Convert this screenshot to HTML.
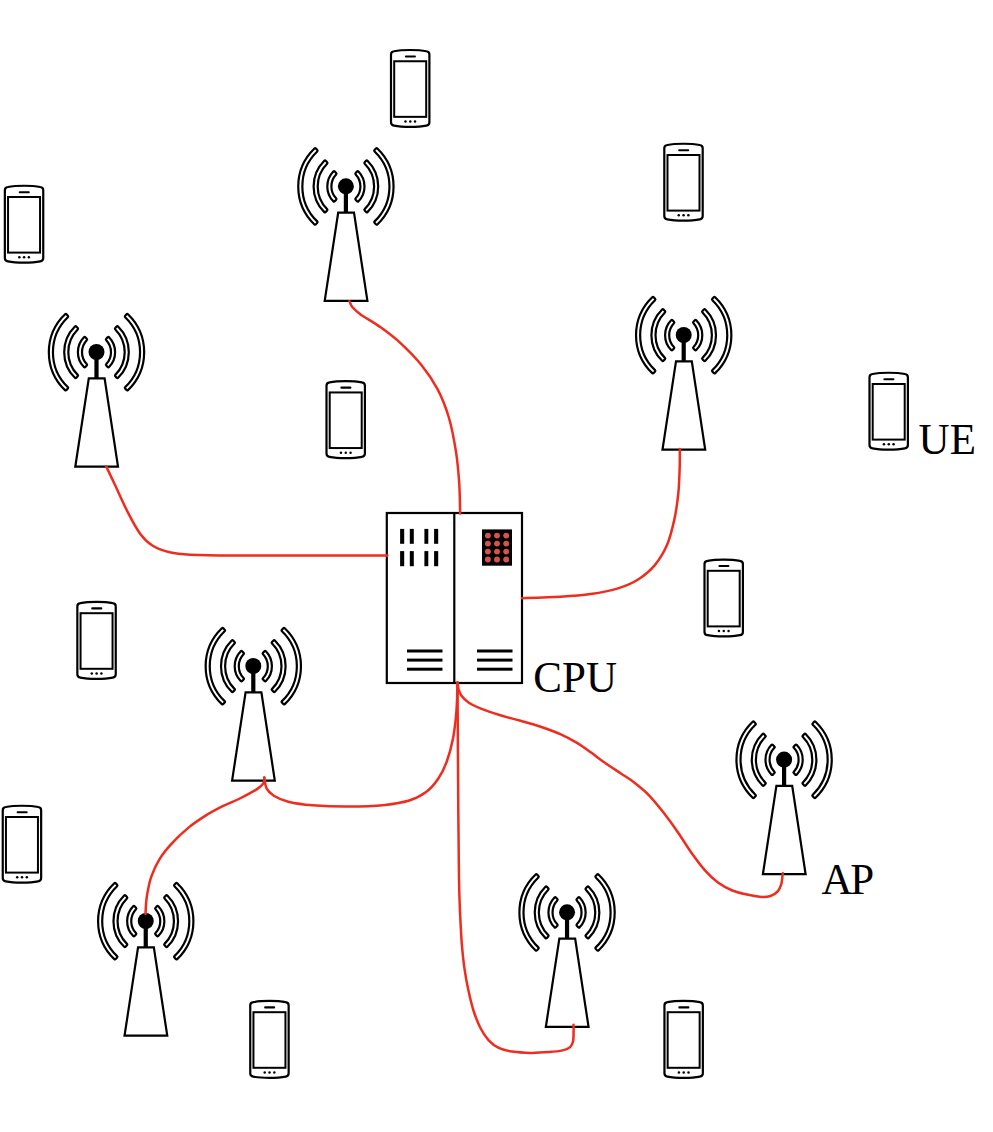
<!DOCTYPE html>
<html><head><meta charset="utf-8"><title>Cell-free network</title>
<style>
html,body{margin:0;padding:0;background:#fff;}
svg{display:block;}
text{font-family:"Liberation Serif",serif;fill:#000;}
</style></head><body>
<svg width="993" height="1132" viewBox="0 0 993 1132">
<rect width="993" height="1132" fill="#fff"/>
<defs>
<g id="ap">
<path d="M-31.45,-37.82 A52.60,52.60 0 0 0 -31.45,38.12 Q-30.72,38.81 -30.04,38.07 L-28.62,36.53 Q-27.94,35.79 -28.67,35.11 A48.50,48.50 0 0 1 -28.67,-34.81 Q-27.94,-35.49 -28.62,-36.23 L-30.04,-37.77 Q-30.72,-38.51 -31.45,-37.82 Z M31.45,-37.82 A52.60,52.60 0 0 1 31.45,38.12 Q30.72,38.81 30.04,38.07 L28.62,36.53 Q27.94,35.79 28.67,35.11 A48.50,48.50 0 0 0 28.67,-34.81 Q27.94,-35.49 28.62,-36.23 L30.04,-37.77 Q30.72,-38.51 31.45,-37.82 Z M-21.60,-25.54 A36.20,36.20 0 0 0 -21.60,25.84 Q-20.88,26.54 -20.20,25.81 L-18.76,24.28 Q-18.07,23.55 -18.79,22.85 A32.10,32.10 0 0 1 -18.79,-22.55 Q-18.07,-23.25 -18.76,-23.98 L-20.20,-25.51 Q-20.88,-26.24 -21.60,-25.54 Z M21.60,-25.54 A36.20,36.20 0 0 1 21.60,25.84 Q20.88,26.54 20.20,25.81 L18.76,24.28 Q18.07,23.55 18.79,22.85 A32.10,32.10 0 0 0 18.79,-22.55 Q18.07,-23.25 18.76,-23.98 L20.20,-25.51 Q20.88,-26.24 21.60,-25.54 Z M-12.56,-14.75 A21.40,21.40 0 0 0 -12.56,15.05 Q-11.85,15.75 -11.16,15.02 L-9.73,13.49 Q-9.04,12.76 -9.75,12.06 A17.30,17.30 0 0 1 -9.75,-11.76 Q-9.04,-12.46 -9.73,-13.19 L-11.16,-14.72 Q-11.85,-15.45 -12.56,-14.75 Z M12.56,-14.75 A21.40,21.40 0 0 1 12.56,15.05 Q11.85,15.75 11.16,15.02 L9.73,13.49 Q9.04,12.76 9.75,12.06 A17.30,17.30 0 0 0 9.75,-11.76 Q9.04,-12.46 9.73,-13.19 L11.16,-14.72 Q11.85,-15.45 12.56,-14.75 Z" fill="none" stroke="#000" stroke-width="2.2" stroke-linejoin="round"/>
<path d="M-7.7,26.3 L8.1,26.3 L21.5,114.6 L-21.2,114.6 Z" fill="#fff" stroke="#000" stroke-width="2.2" stroke-linejoin="miter"/>
<rect x="-2.1" y="0" width="4.2" height="26.3" fill="#000"/>
<circle cx="0" cy="0" r="8" fill="#000"/>
</g>
<g id="ue">
<path d="M-19.2,-33.9 Q-19.2,-36.9 -16.2,-37.199999999999996 C-8,-38.85 8,-38.85 16.2,-37.199999999999996 Q19.2,-36.9 19.2,-33.9 L19.2,33.9 Q19.2,36.9 16.2,37.199999999999996 C8,38.85 -8,38.85 -16.2,37.199999999999996 Q-19.2,36.9 -19.2,33.9 Z" fill="#fff" stroke="#000" stroke-width="2.2" stroke-linejoin="round"/>
<rect x="-16.0" y="-27.2" width="32.0" height="55.6" fill="#fff" stroke="#000" stroke-width="2.0"/>
<line x1="-4.3" y1="-32" x2="4.7" y2="-32" stroke="#000" stroke-width="2.1" stroke-linecap="round"/>
<circle cx="-4.75" cy="33.0" r="1.25" fill="#000"/>
<circle cx="0.05" cy="33.0" r="1.25" fill="#000"/>
<circle cx="4.85" cy="33.0" r="1.25" fill="#000"/>
</g>
</defs>
<g id="cpu">
<rect x="386.8" y="513" width="135.2" height="170" fill="#fff" stroke="#000" stroke-width="2.2"/>
<line x1="454.3" y1="513" x2="454.3" y2="683" stroke="#000" stroke-width="2.2"/>

<rect x="400.1" y="528.9" width="4.10" height="14.90" fill="#000"/>
<rect x="400.1" y="551.1" width="4.10" height="15.10" fill="#000"/>
<rect x="409.8" y="528.9" width="4.00" height="14.90" fill="#000"/>
<rect x="409.8" y="551.1" width="4.00" height="15.10" fill="#000"/>
<rect x="424.4" y="528.9" width="3.90" height="14.90" fill="#000"/>
<rect x="424.4" y="551.1" width="3.90" height="15.10" fill="#000"/>
<rect x="434.1" y="528.9" width="4.10" height="14.90" fill="#000"/>
<rect x="434.1" y="551.1" width="4.10" height="15.10" fill="#000"/>
<rect x="482" y="529.4" width="30" height="36.3" fill="#000"/>
<circle cx="487.9" cy="535.6" r="2.95" fill="#d4544d"/>
<circle cx="487.9" cy="543.6" r="2.95" fill="#d4544d"/>
<circle cx="487.9" cy="551.6" r="2.95" fill="#d4544d"/>
<circle cx="487.9" cy="559.5" r="2.95" fill="#d4544d"/>
<circle cx="497.0" cy="535.6" r="2.95" fill="#d4544d"/>
<circle cx="497.0" cy="543.6" r="2.95" fill="#d4544d"/>
<circle cx="497.0" cy="551.6" r="2.95" fill="#d4544d"/>
<circle cx="497.0" cy="559.5" r="2.95" fill="#d4544d"/>
<circle cx="506.2" cy="535.6" r="2.95" fill="#d4544d"/>
<circle cx="506.2" cy="543.6" r="2.95" fill="#d4544d"/>
<circle cx="506.2" cy="551.6" r="2.95" fill="#d4544d"/>
<circle cx="506.2" cy="559.5" r="2.95" fill="#d4544d"/>
<rect x="407.0" y="649.50" width="35.5" height="3.0" fill="#000"/>
<rect x="477.0" y="649.50" width="35.5" height="3.0" fill="#000"/>
<rect x="407.0" y="658.60" width="35.5" height="3.0" fill="#000"/>
<rect x="477.0" y="658.60" width="35.5" height="3.0" fill="#000"/>
<rect x="407.0" y="667.70" width="35.5" height="3.0" fill="#000"/>
<rect x="477.0" y="667.70" width="35.5" height="3.0" fill="#000"/>
</g>
<use href="#ue" x="410.2" y="88.45"/>
<use href="#ue" x="683.5" y="182.2"/>
<use href="#ue" x="24.05" y="224.2"/>
<use href="#ue" x="345.7" y="419.65"/>
<use href="#ue" x="888.7" y="411.2"/>
<use href="#ue" x="723.7" y="598.0"/>
<use href="#ue" x="96.55" y="640.4"/>
<use href="#ue" x="21.95" y="844.2"/>
<use href="#ue" x="269.45" y="1039.4"/>
<use href="#ue" x="683.65" y="1039.4"/>
<use href="#ap" x="345.9" y="186.3"/>
<use href="#ap" x="96.5" y="352.0"/>
<use href="#ap" x="683.7" y="335.0"/>
<use href="#ap" x="253.3" y="666.0"/>
<use href="#ap" x="784.1" y="759.6"/>
<use href="#ap" x="145.75" y="921.0"/>
<use href="#ap" x="567.05" y="912.3"/>
<g fill="none" stroke="#ee2d1e" stroke-width="2.5" stroke-linecap="round" stroke-linejoin="round">
<path d="M349.5,301.2 C350.0,302.2 350.6,305.1 352.5,307.3 C354.4,309.5 355.9,311.0 360.6,314.4 C365.4,317.8 374.2,322.7 381.0,327.6 C387.8,332.5 394.5,337.5 401.3,343.8 C408.1,350.1 415.5,357.6 421.6,365.2 C427.7,372.8 433.2,380.8 437.8,389.6 C442.4,398.4 445.9,407.5 449.0,418.0 C452.1,428.5 454.4,441.7 456.1,452.5 C457.8,463.3 458.5,472.8 459.2,483.0 C459.9,493.2 460.0,508.4 460.2,513.5"/>
<path d="M106.2,466.4 C107.6,469.4 111.1,476.6 114.8,484.5 C118.5,492.4 124.2,505.3 128.5,513.6 C132.8,521.9 136.5,528.9 140.5,534.2 C144.5,539.5 147.6,542.5 152.4,545.5 C157.2,548.5 163.3,550.8 169.6,552.3 C175.9,553.8 179.8,554.2 190.1,554.7 C200.4,555.2 212.9,555.5 231.2,555.6 C249.5,555.8 274.0,555.6 300.0,555.6 C326.0,555.6 372.8,555.6 387.3,555.6"/>
<path d="M679.8,449.1 C679.8,452.6 679.9,462.7 679.6,470.3 C679.3,477.9 679.1,486.1 678.2,494.5 C677.3,502.9 676.0,512.2 674.1,520.6 C672.2,529.0 670.3,537.4 667.1,544.8 C663.9,552.2 659.7,559.2 655.0,564.9 C650.3,570.6 644.9,575.1 638.9,579.0 C632.9,582.9 626.8,585.6 618.8,588.1 C610.8,590.6 600.3,592.7 590.6,594.1 C580.9,595.5 571.8,596.1 560.4,596.8 C549.0,597.5 528.5,598.0 522.1,598.2"/>
<path d="M457.5,682.4 C457.4,685.6 457.3,695.4 457.0,701.4 C456.7,707.4 456.5,711.8 455.8,718.3 C455.1,724.8 454.2,732.9 452.7,740.1 C451.2,747.4 449.1,755.3 446.7,761.8 C444.3,768.2 441.6,773.8 438.2,778.8 C434.8,783.8 430.9,788.5 426.1,792.1 C421.3,795.7 416.1,798.4 409.2,800.5 C402.3,802.6 395.1,803.9 385.0,804.9 C374.9,805.9 360.9,806.5 348.8,806.6 C336.7,806.7 322.6,806.1 312.5,805.3 C302.4,804.5 294.8,803.3 288.3,801.7 C281.9,800.1 277.4,797.9 273.8,795.7 C270.2,793.5 268.2,791.5 266.6,788.4 C265.0,785.3 264.6,779.2 264.2,777.4"/>
<path d="M264.3,777.4 C264.2,778.4 264.7,781.1 263.5,783.1 C262.3,785.1 260.9,786.5 257.0,789.1 C253.1,791.7 245.5,795.6 239.8,798.5 C234.1,801.4 228.4,803.4 222.7,806.2 C217.0,809.1 211.3,812.0 205.6,815.6 C199.9,819.2 194.2,822.9 188.5,827.6 C182.8,832.3 176.2,838.6 171.4,843.9 C166.6,849.2 162.7,853.9 159.4,859.3 C156.1,864.7 153.4,870.9 151.4,876.4 C149.4,881.9 148.5,887.6 147.6,892.0 C146.7,896.4 146.4,899.3 146.1,903.0 C145.8,906.7 145.6,912.2 145.5,914.0"/>
<path d="M457.5,682.4 C457.6,703.9 458.1,778.5 458.3,811.4 C458.6,844.3 458.7,863.0 459.0,880.0 C459.3,897.0 459.6,903.0 460.1,913.6 C460.6,924.2 461.1,934.8 461.8,943.8 C462.5,952.8 463.2,959.5 464.3,967.3 C465.4,975.1 466.9,983.5 468.5,990.8 C470.1,998.1 471.6,1004.9 473.6,1011.0 C475.6,1017.1 477.8,1022.8 480.3,1027.7 C482.8,1032.6 485.6,1036.9 488.7,1040.3 C491.8,1043.7 494.9,1046.0 498.8,1047.9 C502.7,1049.8 506.9,1050.8 512.2,1051.6 C517.5,1052.4 524.6,1052.8 530.7,1052.9 C536.9,1053.0 543.8,1052.5 549.1,1052.1 C554.4,1051.7 559.1,1051.2 562.6,1050.4 C566.1,1049.6 568.4,1048.6 570.1,1047.1 C571.9,1045.6 572.5,1043.9 573.1,1041.2 C573.7,1038.5 573.5,1033.8 573.6,1031.1 C573.7,1028.3 573.5,1025.8 573.5,1024.7"/>
<path d="M457.6,682.4 C457.8,683.5 457.9,687.0 458.5,689.1 C459.1,691.2 459.5,693.0 461.1,695.2 C462.7,697.4 465.0,700.0 468.2,702.2 C471.4,704.4 474.9,706.1 480.3,708.3 C485.7,710.5 493.7,713.2 500.4,715.3 C507.1,717.4 513.9,718.9 520.6,720.8 C527.3,722.7 534.0,724.5 540.7,726.8 C547.4,729.1 554.8,731.7 560.8,734.4 C566.8,737.1 572.0,739.9 577.0,742.9 C582.0,745.9 586.4,749.2 591.1,752.6 C595.8,756.0 600.2,759.5 605.2,763.0 C610.2,766.5 616.4,770.4 621.3,773.7 C626.2,777.0 629.9,779.1 634.5,782.7 C639.1,786.3 644.2,790.3 649.0,795.3 C653.8,800.3 658.7,806.4 663.5,812.6 C668.3,818.8 673.2,825.5 678.0,832.5 C682.8,839.5 688.0,847.9 692.5,854.3 C697.0,860.6 701.0,865.9 705.2,870.6 C709.4,875.3 713.4,879.1 717.9,882.4 C722.4,885.7 727.6,888.5 732.4,890.5 C737.2,892.5 742.1,893.4 746.9,894.5 C751.7,895.6 757.5,896.6 761.4,896.9 C765.3,897.1 767.8,896.9 770.5,896.0 C773.2,895.1 775.9,893.4 777.7,891.4 C779.5,889.4 780.4,887.2 781.3,884.2 C782.1,881.2 782.5,875.1 782.8,873.3"/>
</g>
<text transform="translate(533.3,692.3) scale(1,1.035)" font-size="43">CPU</text>
<text transform="translate(918.6,453.7) scale(1,1.04)" font-size="43">UE</text>
<text transform="translate(821.5,894.3) scale(1,1.045)" font-size="43" letter-spacing="-2.4">AP</text>
</svg></body></html>
